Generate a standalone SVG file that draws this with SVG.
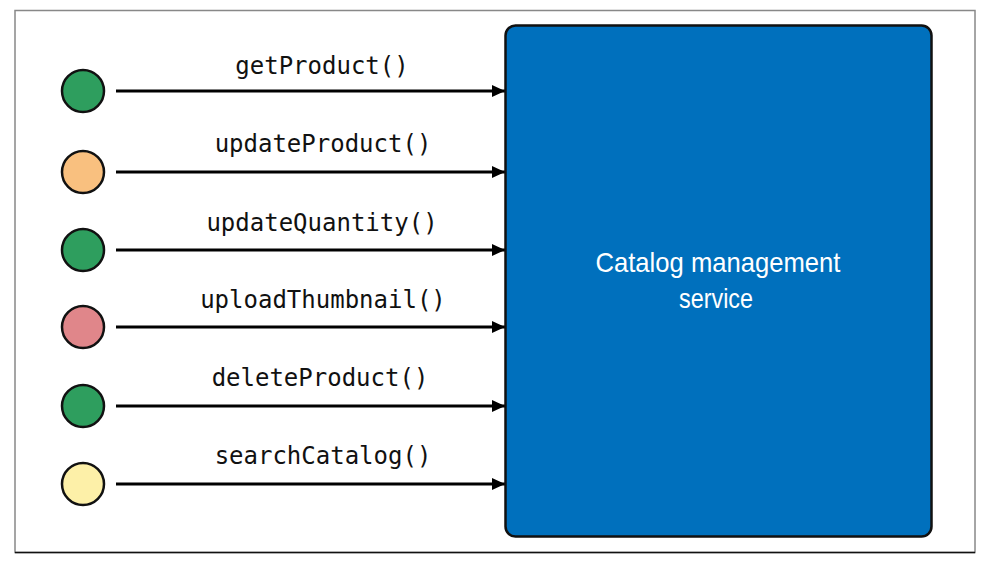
<svg xmlns="http://www.w3.org/2000/svg" width="990" height="567" viewBox="0 0 990 567">
<style>
.frame{fill:#fff;stroke:#888;stroke-width:1.5}
.dot{stroke:#111;stroke-width:2.5}
.lbl{font-family:"DejaVu Sans Mono","Liberation Mono",monospace;font-size:24px;fill:#111;text-anchor:middle}
.conn{stroke:#000;stroke-width:3;fill:none;marker-end:url(#ah)}
.svc{fill:#0070bd;stroke:#111;stroke-width:2.5}
.svct{font-family:"Liberation Sans",Arial,sans-serif;font-size:28px;fill:#fff;text-anchor:middle}
</style>
<defs>
<marker id="ah" markerWidth="13" markerHeight="12" refX="13" refY="6" orient="auto" markerUnits="userSpaceOnUse">
<path d="M0,0 L13,6 L0,12 Z" fill="#000"/>
</marker>
</defs>
<rect width="990" height="567" fill="#fff"/>
<rect class="frame" x="15" y="10.5" width="960" height="542"/>
<line x1="15" y1="552.5" x2="975" y2="552.5" stroke="#111" stroke-width="1.5"/>
<g id="connectors">
<line class="conn" x1="116" y1="91" x2="505" y2="91"/>
<line class="conn" x1="116" y1="172" x2="505" y2="172"/>
<line class="conn" x1="116" y1="250" x2="505" y2="250"/>
<line class="conn" x1="116" y1="327" x2="505" y2="327"/>
<line class="conn" x1="116" y1="406" x2="505" y2="406"/>
<line class="conn" x1="116" y1="484" x2="505" y2="484"/>
<text class="lbl" x="322" y="74">getProduct()</text>
<text class="lbl" x="323" y="152">updateProduct()</text>
<text class="lbl" x="322" y="231">updateQuantity()</text>
<text class="lbl" x="323" y="308">uploadThumbnail()</text>
<text class="lbl" x="320" y="386">deleteProduct()</text>
<text class="lbl" x="323" y="464">searchCatalog()</text>
</g>
<g id="c1"><circle class="dot" cx="83" cy="91" r="21" fill="#2e9e5e"/></g>
<g id="c2"><circle class="dot" cx="83" cy="172" r="21" fill="#f9c07f"/></g>
<g id="c3"><circle class="dot" cx="83" cy="250" r="21" fill="#2e9e5e"/></g>
<g id="c4"><circle class="dot" cx="83" cy="327" r="21" fill="#e0868a"/></g>
<g id="c5"><circle class="dot" cx="83" cy="406" r="21" fill="#2e9e5e"/></g>
<g id="c6"><circle class="dot" cx="83" cy="484" r="21" fill="#fdf0a8"/></g>
<g id="service">
<rect class="svc" x="505.5" y="25.5" width="426" height="511" rx="10"/>
<text class="svct" x="718" y="272" textLength="245" lengthAdjust="spacingAndGlyphs">Catalog management</text>
<text class="svct" x="716" y="308" textLength="74" lengthAdjust="spacingAndGlyphs">service</text>
</g>
</svg>
